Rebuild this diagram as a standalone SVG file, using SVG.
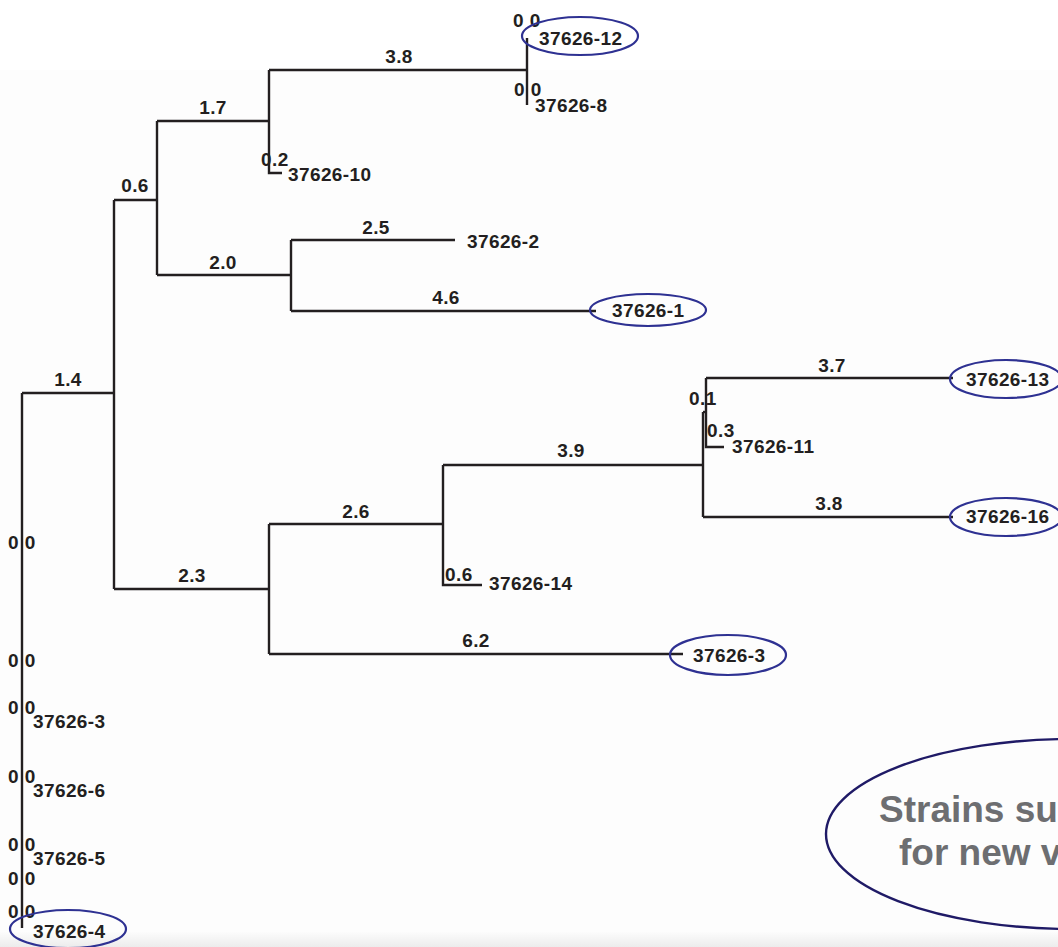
<svg xmlns="http://www.w3.org/2000/svg" width="1058" height="947" viewBox="0 0 1058 947">
<defs>
<style>
.br{fill:none;stroke:#231f20;stroke-width:2.4}
.t{font-family:"Liberation Sans",Arial,sans-serif;font-weight:bold;font-size:19px;fill:#231f20;letter-spacing:0.4px}
.bl{text-anchor:middle}
.ov{fill:none;stroke:#2e3192;stroke-width:2.2}
.big{fill:none;stroke:#1f1a66;stroke-width:2.4}
.bt{font-family:"Liberation Sans",Arial,sans-serif;font-weight:bold;font-size:37px;fill:#6d6e71}
</style>
<linearGradient id="bot" x1="0" y1="0" x2="0" y2="1">
<stop offset="0" stop-color="#fcfcfc"/>
<stop offset="1" stop-color="#ececec"/>
</linearGradient>
</defs>
<rect x="0" y="0" width="1058" height="947" fill="#ffffff"/>
<rect x="0" y="70" width="1058" height="862" fill="#fdfdfd"/>
<rect x="0" y="932" width="1058" height="15" fill="url(#bot)"/>

<g id="connectors">
<path class="br" d="M22,393 V928"/>
<path class="br" d="M22,393 H114"/>
<path class="br" d="M114,200 V589"/>
<path class="br" d="M114,200 H157"/>
<path class="br" d="M157,121 V275"/>
<path class="br" d="M157,121 H269"/>
<path class="br" d="M269,70 V173 H282"/>
<path class="br" d="M269,70 H527"/>
<path class="br" d="M527,38 V105"/>
<path class="br" d="M157,275 H291"/>
<path class="br" d="M291,240 V311"/>
<path class="br" d="M291,240 H455"/>
<path class="br" d="M291,311 H596"/>
<path class="br" d="M114,589 H269"/>
<path class="br" d="M269,524 V654"/>
<path class="br" d="M269,524 H443"/>
<path class="br" d="M443,465 V585 H482"/>
<path class="br" d="M443,465 H703"/>
<path class="br" d="M703,412 V517"/>
<path class="br" d="M703,412 H706"/>
<path class="br" d="M706,378 V447 H724"/>
<path class="br" d="M706,378 H953"/>
<path class="br" d="M703,517 H953"/>
<path class="br" d="M269,654 H683"/>
</g>

<g id="branch-labels">
<text class="t bl" x="68" y="386">1.4</text>
<text class="t bl" x="135" y="192">0.6</text>
<text class="t bl" x="213" y="114">1.7</text>
<text class="t bl" x="399" y="63">3.8</text>
<text class="t" x="261" y="166">0.2</text>
<text class="t bl" x="223" y="269">2.0</text>
<text class="t bl" x="376" y="234">2.5</text>
<text class="t bl" x="446" y="304">4.6</text>
<text class="t bl" x="192" y="582">2.3</text>
<text class="t bl" x="356" y="518">2.6</text>
<text class="t bl" x="571" y="457">3.9</text>
<text class="t bl" x="832" y="372">3.7</text>
<text class="t bl" x="829" y="510">3.8</text>
<text class="t" x="689" y="405">0.1</text>
<text class="t" x="707" y="437">0.3</text>
<text class="t" x="445" y="581">0.6</text>
<text class="t bl" x="476" y="647">6.2</text>
<text class="t" x="513" y="27">0 0</text>
<text class="t" x="514" y="96">0 0</text>
<text class="t" x="8" y="549">0 0</text>
<text class="t" x="8" y="667">0 0</text>
<text class="t" x="8" y="714">0 0</text>
<text class="t" x="8" y="783">0 0</text>
<text class="t" x="8" y="851">0 0</text>
<text class="t" x="8" y="885">0 0</text>
<text class="t" x="8" y="918">0 0</text>
</g>

<g id="n-37626-12"><ellipse class="ov" cx="580" cy="36" rx="58" ry="19"/><text class="t" x="539" y="45">37626-12</text></g>
<g id="n-37626-8"><text class="t" x="535" y="112">37626-8</text></g>
<g id="n-37626-10"><text class="t" x="288" y="181">37626-10</text></g>
<g id="n-37626-2"><text class="t" x="467" y="248">37626-2</text></g>
<g id="n-37626-1"><ellipse class="ov" cx="648" cy="310" rx="58" ry="16"/><text class="t" x="612" y="317">37626-1</text></g>
<g id="n-37626-13"><ellipse class="ov" cx="1006" cy="379" rx="56" ry="19"/><text class="t" x="966" y="386">37626-13</text></g>
<g id="n-37626-11"><text class="t" x="732" y="453">37626-11</text></g>
<g id="n-37626-16"><ellipse class="ov" cx="1006" cy="517" rx="56" ry="19"/><text class="t" x="966" y="523">37626-16</text></g>
<g id="n-37626-14"><text class="t" x="489" y="590">37626-14</text></g>
<g id="n-37626-3a"><ellipse class="ov" cx="728" cy="655" rx="58" ry="20"/><text class="t" x="693" y="662">37626-3</text></g>
<g id="n-37626-3b"><text class="t" x="33" y="728">37626-3</text></g>
<g id="n-37626-6"><text class="t" x="33" y="797">37626-6</text></g>
<g id="n-37626-5"><text class="t" x="33" y="865">37626-5</text></g>
<g id="n-37626-4"><ellipse class="ov" cx="68" cy="929" rx="58" ry="19"/><text class="t" x="33" y="938">37626-4</text></g>

<g id="callout">
<ellipse class="big" cx="1072" cy="834" rx="246" ry="95"/>
<text class="bt" x="879" y="822">Strains su</text>
<text class="bt" x="899" y="865">for new v</text>
</g>
</svg>
